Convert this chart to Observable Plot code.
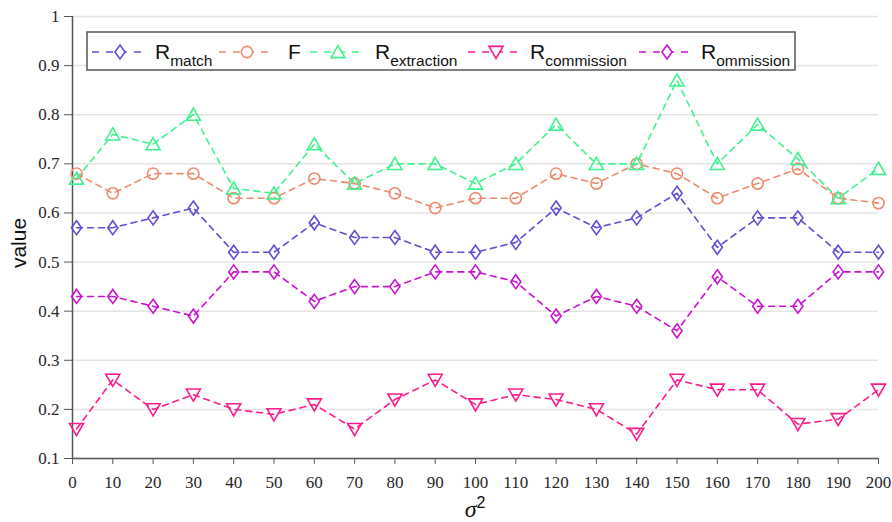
<!DOCTYPE html>
<html>
<head>
<meta charset="utf-8">
<script src="https://cdn.jsdelivr.net/npm/d3@7"></script>
<script src="https://cdn.jsdelivr.net/npm/@observablehq/plot@0.6"></script>
<style>
  html, body { margin: 0; padding: 0; background: #fff; }
  #chart svg g[aria-label$="tick label"],
  #chart svg g[aria-label$="tick label"] text {
    font-family: "Liberation Serif", "DejaVu Serif", "Times New Roman", serif !important;
    font-size: 17px !important;
    fill: #262626 !important;
  }
</style>
</head>
<body>
<div id="chart"></div>
<script>
const sigma2 = [1, 10, 20, 30, 40, 50, 60, 70, 80, 90, 100, 110, 120, 130, 140, 150, 160, 170, 180, 190, 200];
const Rmatch = [0.57, 0.57, 0.59, 0.61, 0.52, 0.52, 0.58, 0.55, 0.55, 0.52, 0.52, 0.54, 0.61, 0.57, 0.59, 0.64, 0.53, 0.59, 0.59, 0.52, 0.52];
const F = [0.68, 0.64, 0.68, 0.68, 0.63, 0.63, 0.67, 0.66, 0.64, 0.61, 0.63, 0.63, 0.68, 0.66, 0.70, 0.68, 0.63, 0.66, 0.69, 0.63, 0.62];
const Rextraction = [0.67, 0.76, 0.74, 0.80, 0.65, 0.64, 0.74, 0.66, 0.70, 0.70, 0.66, 0.70, 0.78, 0.70, 0.70, 0.87, 0.70, 0.78, 0.71, 0.63, 0.69];
const Rcommission = [0.16, 0.26, 0.20, 0.23, 0.20, 0.19, 0.21, 0.16, 0.22, 0.26, 0.21, 0.23, 0.22, 0.20, 0.15, 0.26, 0.24, 0.24, 0.17, 0.18, 0.24];
const Rommission = [0.43, 0.43, 0.41, 0.39, 0.48, 0.48, 0.42, 0.45, 0.45, 0.48, 0.48, 0.46, 0.39, 0.43, 0.41, 0.36, 0.47, 0.41, 0.41, 0.48, 0.48];
const xTicks = [0, 10, 20, 30, 40, 50, 60, 70, 80, 90, 100, 110, 120, 130, 140, 150, 160, 170, 180, 190, 200];
const yTicks = [0.1, 0.2, 0.3, 0.4, 0.5, 0.6, 0.7, 0.8, 0.9, 1];

// custom symbols
const diamondTall = {draw(ctx, size) { const r = Math.sqrt(size / Math.PI); const w = r * 0.72;
  ctx.moveTo(0, -r); ctx.lineTo(w, 0); ctx.lineTo(0, r); ctx.lineTo(-w, 0); ctx.closePath(); }};
const circleSym = {draw(ctx, size) { const r = Math.sqrt(size / Math.PI) * 0.8;
  ctx.moveTo(r, 0); ctx.arc(0, 0, r, 0, 2 * Math.PI); ctx.closePath(); }};
const triUp = {draw(ctx, size) { const r = Math.sqrt(size / Math.PI);
  ctx.moveTo(0, -0.93 * r); ctx.lineTo(r, 0.8 * r); ctx.lineTo(-r, 0.8 * r); ctx.closePath(); }};
const triDown = {draw(ctx, size) { const r = Math.sqrt(size / Math.PI);
  ctx.moveTo(0, 0.93 * r); ctx.lineTo(r, -0.8 * r); ctx.lineTo(-r, -0.8 * r); ctx.closePath(); }};

const series = [
  {name: "match", main: "R", values: Rmatch, color: "#5f4fd3", symbol: diamondTall},
  {name: "F", main: "F", values: F, color: "#ee8a6c", symbol: circleSym},
  {name: "extraction", main: "R", values: Rextraction, color: "#3ff28d", symbol: triUp},
  {name: "commission", main: "R", values: Rcommission, color: "#fb1c8e", symbol: triDown},
  {name: "ommission", main: "R", values: Rommission, color: "#c914cf", symbol: diamondTall}
];

const serif = "Liberation Serif";
const marks = [
  Plot.gridY(yTicks, {stroke: "#e4e4e4", strokeOpacity: 1, strokeWidth: 1.5}),
  Plot.axisY(yTicks, {tickSize: 8, tickPadding: 5, label: null, stroke: "#555", fontFamily: serif, fontSize: 17,
    tickFormat: d => String(+d.toFixed(1))}),
  Plot.axisX(xTicks, {tickSize: 6, tickPadding: 11, label: null, stroke: "#555", fontFamily: serif, fontSize: 17}),
  Plot.ruleX([0], {stroke: "#555", strokeWidth: 1.5}),
  Plot.ruleY([0.1], {stroke: "#555", strokeWidth: 1.5})
];
for (const s of series) {
  const data = sigma2.map((x, i) => ({x, y: s.values[i]}));
  marks.push(Plot.line(data, {x: "x", y: "y", stroke: s.color, strokeWidth: 1.6, strokeDasharray: "6,5"}));
  marks.push(Plot.dot(data, {x: "x", y: "y", stroke: s.color, strokeWidth: 1.6, fill: "none", r: 7, symbol: s.symbol}));
}

const chart = Plot.plot({
  width: 892, height: 522,
  marginLeft: 72, marginRight: 14, marginTop: 16, marginBottom: 64,
  x: {domain: [0, 200]},
  y: {domain: [0.1, 1]},
  style: {fontFamily: serif, fontSize: "17px", color: "#262626", background: "#fff"},
  marks
});
document.getElementById("chart").appendChild(chart);

const svg = d3.select(chart);
// force serif on tick labels
svg.selectAll("g[aria-label$='tick label'], g[aria-label$='tick label'] text")
  .attr("font-family", serif).attr("font-size", 17)
  .style("font-family", "'Liberation Serif', 'DejaVu Serif', serif").style("font-size", "17px");

// axis titles
svg.append("text").attr("transform", "translate(26,243) rotate(-90)")
  .attr("text-anchor", "middle").attr("font-family", "Liberation Sans")
  .attr("font-size", 21).attr("fill", "#111").text("value");
const xl = svg.append("text").attr("x", 475).attr("y", 517).attr("text-anchor", "middle")
  .attr("font-family", "Liberation Sans").attr("font-size", 21).attr("fill", "#111");
xl.append("tspan").attr("font-style", "italic").attr("font-family", serif).attr("font-size", 24).text("σ");
xl.append("tspan").attr("dy", -9).attr("font-size", 16).text("2");

// legend
const lg = svg.append("g").attr("text-anchor", "start");
lg.append("rect").attr("x", 87).attr("y", 32).attr("width", 708).attr("height", 38)
  .attr("fill", "#fff").attr("stroke", "#555").attr("stroke-width", 1.5);
const markerX = [120, 247, 338, 496, 667];
const textX = [155, 288, 375, 530, 701];
series.forEach((s, i) => {
  const mx = markerX[i], cy = 52;
  lg.append("line").attr("x1", mx - 28).attr("x2", mx + 28).attr("y1", cy).attr("y2", cy)
    .attr("stroke", s.color).attr("stroke-width", 1.6).attr("stroke-dasharray", "7,7");
  lg.append("path").attr("transform", `translate(${mx},${cy})`)
    .attr("d", d3.symbol(s.symbol, Math.PI * 49)()).attr("fill", "#fff").attr("stroke", s.color).attr("stroke-width", 1.6);
  const t = lg.append("text").attr("x", textX[i]).attr("y", 59).attr("text-anchor", "start")
    .attr("font-family", "Liberation Sans").attr("font-size", 21).attr("fill", "#111");
  t.append("tspan").text(s.main);
  if (s.name !== "F") t.append("tspan").attr("dy", 7).attr("font-size", 15.5).text(s.name);
});
</script>
</body>
</html>
